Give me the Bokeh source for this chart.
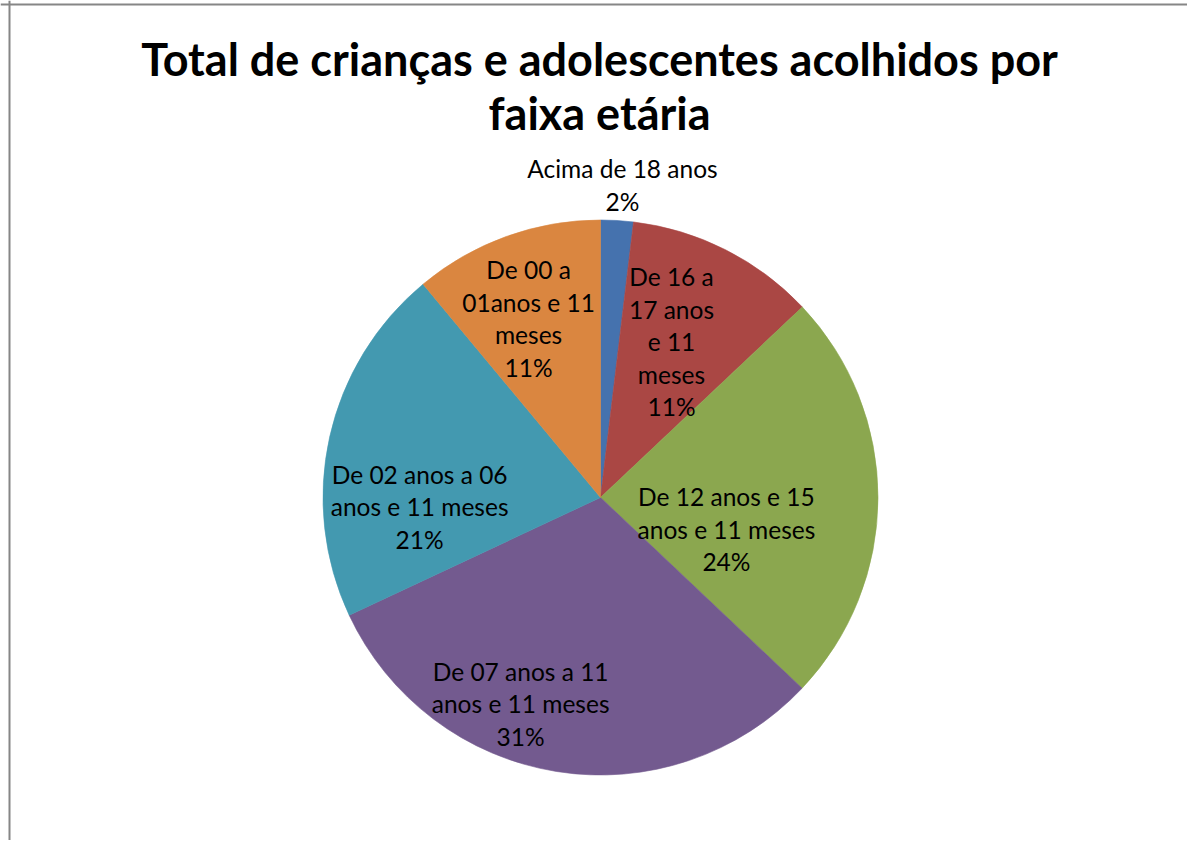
import math
from bokeh.plotting import figure
from bokeh.models import ColumnDataSource, Range1d, Span
from bokeh.core.properties import value
from bokeh.embed import file_html
from bokeh.resources import INLINE

# ---------------- data ----------------
title_lines = ["Total de crianças e adolescentes acolhidos por", "faixa etária"]
categories = [
    "Acima de 18 anos",
    "De 16 a 17 anos e 11 meses",
    "De 12 anos e 15 anos e 11 meses",
    "De 07 anos a 11 anos e 11 meses",
    "De 02 anos a 06 anos e 11 meses",
    "De 00 a 01anos e 11 meses",
]
category_lines = [
    ["Acima de 18 anos"],
    ["De 16 a", "17 anos", "e 11", "meses"],
    ["De 12 anos e 15", "anos e 11 meses"],
    ["De 07 anos a 11", "anos e 11 meses"],
    ["De 02 anos a 06", "anos e 11 meses"],
    ["De 00 a", "01anos e 11", "meses"],
]
shares = [1.9, 11.06, 24.1, 30.97, 20.93, 11.04]
percent_labels = ["2%", "11%", "24%", "31%", "21%", "11%"]

# ---------------- styles / layout ----------------
colors = ["#4572AE", "#AA4744", "#8BA74F", "#735A8F", "#4399B0", "#DA8640"]
W, H = 1187, 840
cx, cy, R = 600, H - 497, 277.5
# label placement: (fraction of radius, angle clockwise from top in degrees)
label_r_frac = [1.122, 0.611, 0.470, 0.803, 0.653, 0.689]
label_angle = [4.05, 24.75, 105.1, 201.0, 266.5, 337.9]
label_dy = 2
line_gap = 32.5
label_font = "Lato"
label_size = "24.5px"

p = figure(width=W, height=H, x_range=Range1d(0, W), y_range=Range1d(0, H),
           toolbar_location=None, output_backend="svg", min_border=0,
           background_fill_color="white", border_fill_color="white")
p.axis.visible = False
p.grid.visible = False
p.outline_line_color = None

# wedges
total = sum(shares)
starts, ends = [], []
acc = 0.0
for s in shares:
    starts.append(math.pi / 2 - 2 * math.pi * acc / total)
    acc += s
    ends.append(math.pi / 2 - 2 * math.pi * acc / total)
src = ColumnDataSource(dict(start=starts, end=ends, color=colors, cat=categories, share=shares))
p.wedge(x=cx, y=cy, radius=R, start_angle="start", end_angle="end", direction="clock",
        fill_color="color", line_color="color", line_width=0.6, source=src)

# labels
tx, ty, tt = [], [], []
for lines, pct, fr, ang in zip(category_lines, percent_labels, label_r_frac, label_angle):
    all_lines = lines + [pct]
    n = len(all_lines)
    a = math.radians(ang)
    lx = cx + fr * R * math.sin(a)
    ly = cy + fr * R * math.cos(a) + label_dy
    for i, t in enumerate(all_lines):
        tx.append(lx)
        ty.append(ly + ((n - 1) / 2 - i) * line_gap)
        tt.append(t)
lsrc = ColumnDataSource(dict(x=tx, y=ty, text=tt))
p.text(x="x", y="y", text="text", source=lsrc, text_align="center", text_baseline="middle",
       text_font=value(label_font), text_font_size=value(label_size), text_color="#000000")

# title (two centred lines)
title_gap = 54
title_top = H - 58.5
tsrc = ColumnDataSource(dict(x=[599] * len(title_lines),
                             y=[title_top - i * title_gap for i in range(len(title_lines))],
                             text=title_lines))
p.text(x="x", y="y", text="text", source=tsrc, text_align="center", text_baseline="middle",
       text_font=value("Lato"), text_font_style="bold", text_font_size=value("45px"),
       text_color="#000000")

# chart area border (left and top edges visible)
p.add_layout(Span(location=9, dimension="height", line_color="#868686", line_width=2))
p.add_layout(Span(location=H - 4, dimension="width", line_color="#868686", line_width=2))

open("out.html", "w").write(file_html(p, INLINE))
